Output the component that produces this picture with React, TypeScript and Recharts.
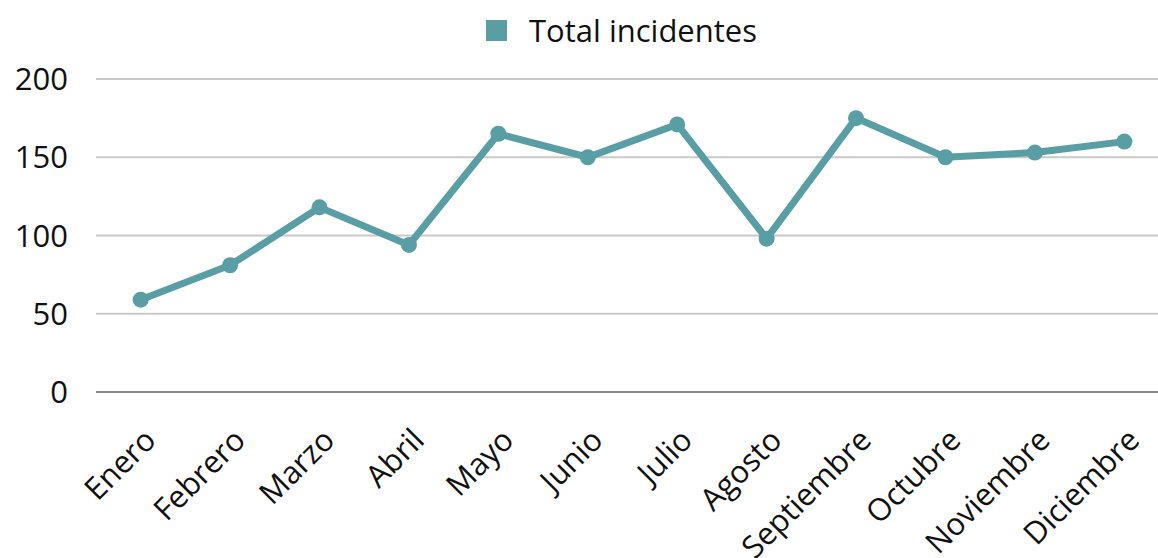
import { LineChart, Line, XAxis, YAxis, CartesianGrid } from 'recharts'

const MONTHS = [
  'Enero', 'Febrero', 'Marzo', 'Abril', 'Mayo', 'Junio',
  'Julio', 'Agosto', 'Septiembre', 'Octubre', 'Noviembre', 'Diciembre',
]
const TOTALS = [59, 81, 118, 94, 165, 150, 171, 98, 175, 150, 153, 160]
const Y_TICKS = [0, 50, 100, 150, 200]

const COLOR = '#599ea4'
const FONT = '"Open Sans", Lato, sans-serif'

const data = MONTHS.map((month, i) => ({ month, total: TOTALS[i] }))

function MonthTick({ x, y, payload }: any) {
  return (
    <g transform={`translate(${x + 17},${y + 42})`}>
      <text
        x={0}
        y={0}
        textAnchor="end"
        transform="rotate(-45)"
        fill="#111"
        fontSize={31}
        fontFamily={FONT}
      >
        {payload.value}
      </text>
    </g>
  )
}

export default function App() {
  return (
    <div
      style={{
        position: 'absolute',
        left: 0,
        top: 0,
        width: 1158,
        height: 558,
        overflow: 'hidden',
        background: '#fff',
      }}
    >
      <div
        style={{
          position: 'absolute',
          top: 8,
          left: 486,
          display: 'flex',
          alignItems: 'center',
          fontFamily: FONT,
          fontSize: 31,
          lineHeight: '44px',
          color: '#111',
          zIndex: 2,
          whiteSpace: 'nowrap',
        }}
      >
        <span style={{ width: 21, height: 21, background: COLOR, marginRight: 22 }} />
        Total incidentes
      </div>
      <LineChart
        width={1170}
        height={558}
        data={data}
        margin={{ top: 79, right: 1, bottom: 0, left: 0 }}
      >
        <CartesianGrid vertical={false} stroke="#c9c9c9" strokeWidth={2} />
        <XAxis
          dataKey="month"
          interval={0}
          height={166}
          padding={{ left: 44.7, right: 44.7 }}
          axisLine={{ stroke: '#8a8a8a', strokeWidth: 2 }}
          tickLine={false}
          tick={<MonthTick />}
        />
        <YAxis
          domain={[0, 200]}
          ticks={Y_TICKS}
          width={96}
          axisLine={false}
          tickLine={false}
          tickMargin={22}
          tick={{ fill: '#111', fontSize: 31, fontFamily: FONT }}
        />
        <Line
          type="linear"
          dataKey="total"
          stroke={COLOR}
          strokeWidth={7}
          dot={{ r: 8, fill: COLOR, stroke: COLOR, strokeWidth: 0 }}
          activeDot={false}
          isAnimationActive={false}
        />
      </LineChart>
    </div>
  )
}
